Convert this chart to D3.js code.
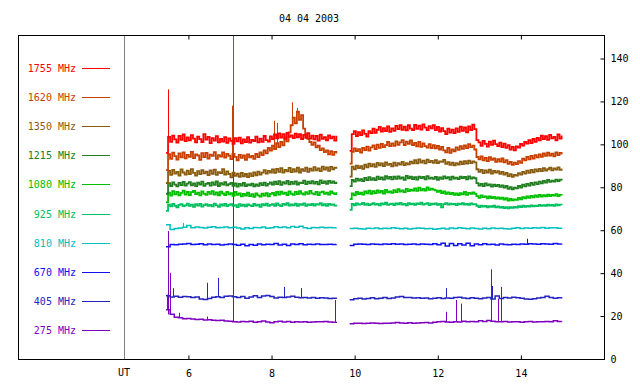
<!DOCTYPE html>
<html>
<head>
<meta charset="utf-8">
<script src="https://cdn.jsdelivr.net/npm/d3@7"></script>
<style>
  body { margin: 0; background: #fff; }
  text { font-family: "DejaVu Sans Mono", monospace; font-size: 10px; }
</style>
</head>
<body>
<div id="chart-container"></div>
<script>
const title = "04 04 2003";
const freqs = ["1755 MHz", "1620 MHz", "1350 MHz", "1215 MHz", "1080 MHz",
  "925 MHz", "810 MHz", "670 MHz", "405 MHz", "275 MHz"];
const colors = ["#ff0000", "#c84000", "#8a5c10", "#208020", "#00c000",
  "#00c060", "#00c0c0", "#1010f0", "#2424c0", "#8000c0"];
const xTicks = [6, 8, 10, 12, 14];
const yTicks = [0, 20, 40, 60, 80, 100, 120, 140];

// two observing runs; the noisy high channels are sampled every 0.05 h, the rest every 0.1 h
const runStart = [5.46, 9.88];
const sampleStep = [0.05, 0.05, 0.05, 0.05, 0.05, 0.05, 0.1, 0.1, 0.1, 0.1];

const s1755a = [96,
  103.5, 101.2, 104.1, 102.3, 100.8, 103.9, 102.1, 104.6, 101.5, 103.2,
  101.9, 104.3, 102.7, 100.9, 103.6, 102.4, 101.1, 104.8, 102.2, 103.5,
  100.6, 102.9, 101.7, 103.8, 100.9, 102.5, 101.3, 103.4, 100.7, 102.8,
  101.6, 100.2, 102.9, 101.4, 103.1, 100.5, 102.3, 101, 103.3, 100.8,
  102.1, 101.5, 103.6, 100.9, 102.7, 101.2, 103.9, 102, 101.3, 103.7,
  102.4, 104.6, 102.8, 105.1, 103.2, 104.8, 102.6, 105.3, 103.5, 104.2,
  102.9, 105, 103.3, 104.7, 102.5, 104.4, 103, 105.2, 102.7, 104.1,
  102.3, 103.9, 101.8, 104.5, 102.6, 103.4, 101.9, 104.2, 102.8, 103.6, 101.7, 104];
const s1755b = [97,
  104.8, 106.2, 103.9, 105.7, 104.3, 106.5, 104.9, 103.6, 106.1, 105.2,
  107.3, 105.4, 106.8, 108.1, 105.9, 107.6, 106.2, 108.4, 105.8, 107.4,
  106.3, 108.6, 107.1, 109, 106.8, 108.2, 106.5, 108.9, 107.3, 106.6,
  109.1, 107.2, 108.7, 106.9, 109.3, 107.8, 106.7, 108.5, 107.4, 109,
  106.6, 108.1, 105.9, 107.5, 106.2, 104.8, 107.3, 105.5, 106.9, 105.2,
  107.4, 105.8, 108.2, 106.3, 107.9, 105.6, 108.4, 106.7, 109.2, 107.1,
  102, 100.9, 99.3, 101.6, 100.2, 98.9, 101.3, 99.8, 101.7, 100.1,
  99.2, 100.8, 98.7, 100.3, 98.4, 99.6, 97.5, 98.8, 97.2, 99.1,
  98.5, 100.2, 99.4, 101.1, 100.3, 102, 100.6, 102.5, 101.2, 103,
  101.9, 104, 102.5, 103.8, 102.1, 104.4, 102.8, 103.5, 101.9, 104.6, 102.7, 104.1];

const s1620a = [88,
  95.4, 93.2, 96.1, 94.5, 92.9, 95.8, 94, 96.3, 93.5, 95.1,
  94.2, 96.5, 93.6, 95.3, 94.8, 92.8, 95.9, 94.1, 96, 93.4,
  95.2, 94.6, 96.4, 93.3, 95, 94.3, 96.2, 93.8, 95.5, 94.7,
  93.1, 95.6, 94.2, 92.6, 95.1, 93.7, 94.9, 92.8, 95.3, 93.9,
  94.6, 93.2, 95.5, 94.1, 96.3, 95, 97.2, 95.8, 98.3, 97.1,
  99.4, 97.8, 100.6, 98.7, 101.2, 99.5, 103.1, 101.4, 105.6, 108.9,
  112.5, 109.8, 115.2, 111.4, 113.6, 107.3, 104.8, 102.6, 101.1, 99.8,
  100.9, 98.6, 99.4, 97.3, 98.1, 96.4, 97.2, 95.3, 96.8, 95.1, 96.5, 95.7];
const s1620b = [91,
  96.5, 98.1, 96.9, 97.8, 96.2, 98.4, 97.3, 98.9, 97.1, 98.6,
  99.5, 97.8, 99.9, 98.4, 100.2, 98.7, 99.6, 101.1, 99.2, 100.5,
  99.3, 101.4, 99.8, 100.9, 102, 99.7, 101.3, 100.2, 101.8, 99.6,
  100.7, 99.1, 101.2, 98.8, 100.4, 99.2, 98.5, 100.1, 98.3, 99.6,
  98.1, 99.3, 97.6, 98.8, 97.2, 96.3, 98.4, 96.1, 97.7, 96.8,
  98.6, 97.4, 99.2, 97.9, 99.5, 98.2, 100.1, 98.7, 99.4, 97.6,
  94.1, 93, 94.4, 92.5, 93.7, 92.2, 94, 92.8, 93.5, 91.9,
  93.1, 92, 93.4, 91.6, 92.7, 90.9, 91.8, 90.4, 91.5, 90.8,
  92.2, 91.4, 93.3, 92.5, 94.1, 93, 94.6, 93.4, 95, 93.9,
  95.3, 94.2, 95.8, 94.6, 96.1, 94.8, 95.7, 94.4, 96.2, 95, 96, 95.3];

const s1350a = [82,
  87.6, 85.8, 88.1, 86.4, 87.2, 85.5, 88.3, 86.9, 85.9, 87.8,
  86.2, 88.4, 86.7, 85.4, 87.5, 86.1, 88, 86.5, 87.3, 85.7,
  87.9, 86.3, 88.2, 85.8, 87, 86.6, 88.5, 85.9, 87.4, 86.2,
  84.6, 86.8, 85.3, 86.4, 84.9, 86.7, 85.1, 86.2, 84.7, 86.5,
  85.2, 86.9, 85.6, 87.3, 85.9, 86.8, 88, 86.4, 87.6, 86.9,
  88.3, 86.7, 88.6, 87.2, 88.9, 86.8, 88.1, 87.4, 89, 87.1,
  88.5, 87.3, 89.2, 86.9, 88.4, 87.6, 89.1, 87.2, 88.7, 87.8,
  89.4, 87.9, 88.8, 87.5, 89.6, 88.2, 89.3, 87.7, 89.5, 88.4, 89.1, 88.6];
const s1350b = [85,
  89.6, 88.4, 90.1, 88.9, 89.8, 88.6, 90.5, 89.3, 91, 89.7,
  90.8, 89.5, 91.4, 90.2, 91.1, 89.9, 91.6, 90.4, 90.9, 89.8,
  91.5, 90.1, 91.2, 90.6, 91.8, 90.3, 91.3, 90.7, 92, 91.1,
  92.6, 91.2, 93, 91.5, 92.4, 91.1, 92.9, 91.7, 92.3, 91.4,
  92.7, 91.3, 92.1, 91.8, 92.8, 90.9, 91.7, 90.4, 91.5, 90.2,
  91.3, 90.6, 91.9, 90.8, 92.2, 91, 92.4, 91.3, 92.1, 91.6,
  88.4, 87.2, 88.1, 86.6, 87.9, 86.9, 88.2, 86.4, 87.6, 86.8,
  87.5, 86.3, 87.2, 85.9, 86.7, 85.2, 86.1, 84.9, 85.8, 85.4,
  86.6, 85.9, 87.2, 86.4, 87.8, 86.7, 88.1, 87, 88.3, 87.4,
  88.6, 87.5, 88.9, 87.8, 88.4, 89.1, 87.9, 88.8, 88.2, 89.3, 88.1, 88.7];

const s1215a = [77,
  81.9, 80.6, 82.3, 81.2, 80.4, 82.1, 81, 82.5, 80.8, 81.7,
  82.4, 80.9, 81.8, 80.5, 82.2, 81.3, 82.6, 80.7, 81.6, 82,
  80.8, 82.3, 81.1, 82.7, 80.6, 81.9, 81.2, 82.4, 80.9, 81.5,
  82.1, 80.7, 81.8, 80.3, 81.6, 80.8, 82, 80.5, 81.4, 80.9,
  81.7, 80.4, 81.3, 80.7, 81.9, 81, 82.2, 80.8, 81.6, 82.3,
  81.2, 82.6, 81.5, 82.9, 81.1, 82.4, 81.7, 83, 81.4, 82.5,
  81.6, 82.8, 81.3, 82.2, 81.9, 83.1, 81.5, 82.6, 81.8, 82.9,
  81.7, 82.5, 81.4, 83.2, 81.9, 82.7, 81.6, 83, 82.1, 82.8, 81.9, 82.6];
const s1215b = [80.5,
  83.4, 82.6, 84, 83.1, 83.8, 82.9, 84.4, 83.3, 84.7, 83.5,
  84.2, 83.4, 85, 83.8, 84.6, 83.6, 85.2, 84, 84.8, 83.7,
  84.9, 83.9, 85.1, 84.1, 84.6, 83.5, 85.3, 84.2, 84.9, 83.8,
  84.7, 83.6, 85, 84.3, 84.8, 83.7, 85.2, 84, 84.5, 83.9,
  84.8, 83.5, 84.6, 83.9, 85.1, 84.2, 84.7, 83.6, 84.9, 84.1,
  84.5, 83.8, 85, 84.3, 84.8, 83.7, 85.1, 84, 84.6, 84.2,
  81.9, 80.8, 81.6, 80.5, 81.8, 80.9, 81.4, 80.3, 81.2, 80.6,
  81.1, 80.2, 80.9, 79.8, 80.6, 79.3, 80.1, 79, 79.8, 79.5,
  80.7, 79.9, 81.2, 80.4, 81.6, 80.8, 82, 81.1, 82.3, 81.5,
  82.6, 81.8, 83, 82.2, 83.4, 82.5, 83.1, 82.7, 83.6, 82.9, 83.5, 83.2];

const s1080a = [73,
  77.5, 76.1, 78.2, 76.7, 77.9, 76.3, 77.4, 78.4, 76.6, 77.8,
  76.4, 77.7, 78.3, 76.8, 77.5, 76.2, 78.1, 77, 76.5, 77.9,
  76.9, 78.2, 76.6, 77.6, 76.3, 78, 77.1, 76.4, 77.8, 76.7,
  77.3, 76, 77.9, 76.5, 77.2, 75.8, 76.9, 76.1, 77.5, 75.9,
  76.8, 75.6, 77.1, 76.2, 75.7, 77, 76.1, 77.3, 75.8, 76.9,
  77.4, 76.3, 77.8, 76.6, 78, 76.9, 77.5, 76.4, 78.1, 77,
  76.5, 77.9, 76.8, 78.2, 77.1, 76.6, 77.7, 76.9, 78.3, 77.2,
  76.7, 77.8, 76.4, 77.6, 78, 76.9, 77.5, 76.6, 78.1, 77.3, 76.8, 77.7];
const s1080b = [74.5,
  77.1, 76.3, 77.8, 76.8, 77.5, 76.6, 78.1, 77.2, 78.4, 77,
  78.2, 77.3, 78.6, 77.5, 78.3, 77.1, 78.8, 77.6, 78.1, 77.4,
  78.7, 77.8, 79.1, 78, 78.6, 77.7, 79.3, 78.2, 78.9, 78.4,
  79.5, 78.3, 79.8, 78.6, 79.2, 78.5, 80, 78.8, 79.4, 78.9,
  78.6, 77.9, 78.4, 77.3, 78.1, 77, 77.6, 76.8, 77.4, 76.5,
  77.2, 76.4, 77.3, 76.7, 77.8, 76.5, 77.4, 76.9, 77.6, 77,
  75.9, 75.1, 76.2, 75.4, 75.8, 74.9, 75.7, 75, 75.5, 74.7,
  75.3, 74.6, 75.2, 74.3, 74.9, 73.8, 74.6, 73.9, 74.4, 74.1,
  75, 74.4, 75.4, 74.8, 75.7, 75.1, 76, 75.3, 76.2, 75.6,
  76.5, 75.7, 76.3, 75.8, 76.6, 75.9, 76.4, 76.1, 76.8, 75.9, 76.5, 76.2];

const s925a = [69,
  71.9, 71.1, 72.3, 71.4, 70.7, 71.8, 72.2, 71.2, 71.6, 72.4,
  71.3, 71.9, 70.9, 72.1, 71.5, 72.3, 71, 71.7, 72.2, 71.4,
  71.8, 71.1, 72.4, 71.6, 70.9, 72, 71.5, 72.3, 71.2, 71.8,
  72.1, 71.3, 71.7, 70.8, 72.2, 71.4, 71.9, 71.1, 72, 71.6,
  71.2, 72.3, 71.5, 71.9, 70.9, 72.1, 71.6, 72.4, 71.3, 71.8,
  72.2, 71.4, 72.5, 71.7, 71.2, 72.3, 71.8, 72.6, 71.5, 72,
  71.6, 72.4, 71.3, 72.1, 71.8, 72.5, 71.4, 72, 71.7, 72.3,
  71.5, 72.2, 71.9, 72.6, 71.6, 72.1, 71.4, 72.3, 71.8, 72, 71.5, 71.9];
const s925b = [69.5,
  72.3, 71.6, 72.5, 71.9, 72.2, 72.7, 71.8, 72.4, 71.7, 72.1,
  72.6, 71.9, 72.3, 71.6, 72.5, 72, 72.8, 71.8, 72.2, 72.4,
  71.7, 72.5, 72.1, 72.7, 71.9, 72.3, 71.6, 72.6, 72, 72.4,
  71.8, 72.5, 72.2, 72.8, 71.9, 72.3, 72.6, 71.7, 72.4, 72.1,
  72.5, 71.8, 72.3, 70.6, 72.2, 72.6, 71.9, 72.4, 72, 72.3,
  71.7, 72.4, 72.1, 72.6, 71.9, 72.3, 71.8, 72.5, 72.1, 72.2,
  71.4, 70.8, 71.5, 71, 71.3, 70.7, 71.2, 70.9, 71.4, 70.6,
  71.1, 70.5, 70.9, 70.3, 70.8, 70.2, 70.7, 70.4, 70.9, 70.5,
  71.2, 70.8, 71.4, 70.9, 71.3, 71, 71.6, 71.1, 71.5, 71.2,
  71.8, 71.3, 71.7, 71.4, 71.9, 71.5, 71.8, 71.3, 72, 71.6, 71.9, 71.7];

const s810a = [62.5, 60.3, 60.8, 61, 61.4, 62.2, 61.2, 61.5, 61.3, 61, 61.4, 61.6, 61.1, 61.3, 61.5, 61.2, 61.4, 61, 60.6, 61.2, 60.8, 61.3, 61.1, 61.5, 60.9, 61.2, 61.6, 61.3, 61.5, 61.1, 61.7, 61.4, 61.9, 61.2, 60.8, 61.3, 61.1, 61.4, 61.2, 61.3, 61.1, 61.2];
const s810b = [60.8, 60.9, 60.7, 60.6, 60.9, 60.8, 61, 60.7, 60.9, 60.8, 61.1, 60.9, 60.7, 60.9, 60.6, 60.8, 61, 60.9, 60.7, 60.8, 60.5, 60.7, 60.9, 60.6, 61, 60.8, 61.1, 60.9, 60.7, 61, 60.8, 60.6, 60.9, 60.7, 61, 60.8, 60.9, 60.7, 60.6, 60.9, 61.1, 60.8, 61, 60.9, 61.2, 61, 61.3, 60.9, 61.1, 61.2, 60.9, 61.1];

const s670a = [52.3, 53.4, 53.2, 53.5, 53.6, 53.8, 53.3, 53.5, 53.7, 53.2, 53.6, 53.4, 53.5, 53.1, 53.4, 53.6, 53.3, 53, 53.5, 52.8, 53.4, 53, 53.6, 53.2, 53.5, 53.4, 53.8, 53.1, 53.5, 52.9, 53.6, 53.4, 53.7, 53.2, 53.5, 53.4, 53.6, 53.3, 53.4, 53.5, 53.3, 53.4];
const s670b = [52.9, 53.5, 53.6, 53.5, 53.4, 53.6, 53.5, 53.4, 53.6, 53.5, 53.7, 53.5, 53.6, 53.4, 53.5, 53.6, 53.3, 53.6, 53.5, 53.4, 53.7, 53.2, 53.9, 52.6, 53.8, 52.9, 53.7, 53.1, 53.9, 52.8, 53.6, 53.2, 53.7, 53.3, 53.5, 53.1, 53.6, 53.4, 53.2, 53.5, 53.4, 53.6, 53.5, 53.7, 53.6, 53.5, 53.7, 53.6, 53.5, 53.8, 53.6, 53.7];

const s405a = [29.5, 28.9, 29.2, 28.8, 29.1, 29, 28.6, 28.9, 28, 27.7, 28.2, 28.8, 29, 28.7, 29.2, 29.4, 29, 28.6, 29.1, 28.3, 28.9, 29.5, 28.7, 29.3, 29.6, 29.1, 28.4, 28.8, 28.6, 28.9, 29.2, 28.8, 28.5, 28.7, 28.4, 28.6, 28.3, 28.5, 28.4, 28.2, 28.3, 28.1];
const s405b = [27.6, 28.1, 28.3, 28, 28.2, 28.5, 28.1, 28.3, 28.6, 28.2, 28.4, 28.9, 29.1, 28.7, 28.6, 28.4, 28.5, 28.3, 28.4, 28.1, 28.3, 28.5, 28.2, 28.4, 28.3, 28.6, 28.8, 28.4, 28.2, 28.5, 28.3, 28.1, 28.4, 28.7, 27.9, 29.4, 28.2, 28.6, 28.4, 28.8, 28.5, 28.3, 28, 27.8, 28.1, 28.4, 28.7, 29.2, 28.6, 28.3, 28.5, 28.2];

const s275a = [23, 20.8, 19.5, 19.2, 18.8, 18.9, 18.6, 18.4, 18.5, 18.2, 18.3, 18, 17.9, 18.1, 17.7, 17.6, 17.4, 17.2, 17.5, 17.3, 17.6, 17.1, 17.4, 17.7, 17.2, 16.9, 17.3, 17.6, 17.2, 17.5, 17.1, 17.4, 17.2, 17.3, 17.1, 17.2, 17.4, 17.3, 17.5, 17.2, 17.1, 17.3];
const s275b = [16.4, 16.6, 16.7, 16.5, 16.6, 16.8, 16.6, 16.5, 16.7, 16.6, 16.8, 17, 16.8, 16.7, 16.9, 16.7, 16.8, 16.9, 17, 16.8, 17.1, 17.3, 17.5, 17.2, 17.1, 17.4, 17.2, 17.6, 17.3, 17.5, 17.4, 17.8, 17.5, 17.9, 17.6, 17.4, 17.3, 17.5, 17.2, 17.4, 17.3, 17.1, 17.3, 17.5, 17.2, 17.4, 17.3, 17.5, 17.4, 17.8, 17.5, 17.6];

// short bursts: [frequency, hour, peak value]
const spikes = [
  ["1755 MHz", 5.52, 125.6],
  ["1620 MHz", 7.06, 118], ["1620 MHz", 7.08, 160],
  ["1620 MHz", 8.06, 111], ["1620 MHz", 8.12, 110],
  ["1620 MHz", 8.5, 119.6], ["1620 MHz", 8.62, 117],
  ["810 MHz", 5.87, 63.4],
  ["670 MHz", 14.14, 56],
  ["405 MHz", 5.63, 33], ["405 MHz", 6.44, 35.5], ["405 MHz", 6.7, 37.8],
  ["405 MHz", 8.3, 33.6], ["405 MHz", 8.7, 33],
  ["405 MHz", 12.21, 33], ["405 MHz", 13.31, 34],
  ["275 MHz", 5.48, 30], ["275 MHz", 5.52, 59.6], ["275 MHz", 5.55, 40],
  ["275 MHz", 5.78, 21.5], ["275 MHz", 6.45, 19.8], ["275 MHz", 7.08, 160],
  ["275 MHz", 9.52, 27.5], ["275 MHz", 12.2, 22],
  ["275 MHz", 12.43, 27.5], ["275 MHz", 12.55, 25.8],
  ["275 MHz", 13.27, 41.8], ["275 MHz", 13.45, 28], ["275 MHz", 13.52, 33.6]
];

const runs = [
  [s1755a, s1755b], [s1620a, s1620b], [s1350a, s1350b], [s1215a, s1215b],
  [s1080a, s1080b], [s925a, s925b], [s810a, s810b], [s670a, s670b],
  [s405a, s405b], [s275a, s275b]
];

const w = 640;
const h = 384;
const frame = { left: 18, top: 35, right: 604, bottom: 359 };

const svg = d3
  .select("#chart-container")
  .append("svg")
  .attr("width", w)
  .attr("height", h);

const xScale = d3.scaleLinear().domain([4.45, 16]).range([124, frame.right]);
const yScale = d3.scaleLinear().domain([0, 140]).range([frame.bottom, 58.5]);
const legendY = d3.scalePoint().domain(freqs).range([68, 330]);
const color = d3.scaleOrdinal().domain(freqs).range(colors);

svg
  .append("clipPath")
  .attr("id", "plot-clip")
  .append("rect")
  .attr("x", 124)
  .attr("y", frame.top)
  .attr("width", frame.right - 124)
  .attr("height", frame.bottom - frame.top);

svg
  .append("text")
  .attr("x", 309)
  .attr("y", 22)
  .attr("text-anchor", "middle")
  .text(title);

// legend
const legend = svg
  .selectAll(".legend")
  .data(freqs)
  .enter()
  .append("g")
  .attr("class", "legend")
  .attr("transform", (d) => "translate(0," + Math.round(legendY(d)) + ")");

legend
  .append("text")
  .attr("x", 76)
  .attr("dy", "0.35em")
  .attr("text-anchor", "end")
  .attr("fill", (d) => color(d))
  .text((d) => d);

legend
  .append("line")
  .attr("x1", 82)
  .attr("x2", 110)
  .attr("y1", 0.5)
  .attr("y2", 0.5)
  .attr("stroke", (d) => color(d))
  .attr("stroke-width", 1);

// UT divider
svg
  .append("line")
  .attr("x1", xScale(4.45) + 0.5)
  .attr("x2", xScale(4.45) + 0.5)
  .attr("y1", frame.top)
  .attr("y2", frame.bottom)
  .attr("stroke", "#808080");

const plot = svg.append("g").attr("clip-path", "url(#plot-clip)");

const line = d3
  .line()
  .x((d) => xScale(d[0]))
  .y((d) => yScale(d[1]))
  .curve(d3.curveStepAfter);

function points(i, r) {
  return runs[i][r].map((v, k) => [runStart[r] + k * sampleStep[i], v]);
}

function valueAt(f, t) {
  const i = freqs.indexOf(f);
  const r = t < 9.7 ? 0 : 1;
  const vals = runs[i][r];
  const k = Math.max(0, Math.min(vals.length - 1, Math.round((t - runStart[r]) / sampleStep[i])));
  return vals[k];
}

// low frequencies first, 1755 MHz on top
d3.range(freqs.length - 1, -1, -1).forEach((i) => {
  const f = freqs[i];
  [0, 1].forEach((r) => {
    plot
      .append("path")
      .attr("d", line(points(i, r)))
      .attr("fill", "none")
      .attr("stroke", color(f))
      .attr("stroke-width", sampleStep[i] < 0.1 ? 1.8 : 1.5);
  });
  plot
    .selectAll(null)
    .data(spikes.filter((s) => s[0] === f))
    .enter()
    .append("line")
    .attr("x1", (d) => Math.round(xScale(d[1])) + 0.5)
    .attr("x2", (d) => Math.round(xScale(d[1])) + 0.5)
    .attr("y1", (d) => yScale(valueAt(f, d[1])))
    .attr("y2", (d) => yScale(d[2]))
    .attr("stroke", color(f))
    .attr("stroke-width", 1);
});

// frame
svg
  .append("rect")
  .attr("x", frame.left + 0.5)
  .attr("y", frame.top + 0.5)
  .attr("width", frame.right - frame.left)
  .attr("height", frame.bottom - frame.top)
  .attr("fill", "none")
  .attr("stroke", "#000");

const xAxis = d3.axisBottom(xScale).tickValues(xTicks).tickSize(-4).tickPadding(10).tickFormat(d3.format("d"));
const xAxisTop = d3.axisTop(xScale).tickValues(xTicks).tickSize(-4).tickFormat("");
const yAxis = d3.axisRight(yScale).tickValues(yTicks).tickSizeInner(-4).tickSizeOuter(0).tickPadding(6);

svg
  .append("g")
  .attr("id", "x-axis")
  .attr("transform", "translate(0," + (frame.bottom + 0.5) + ")")
  .call(xAxis);

svg
  .append("g")
  .attr("transform", "translate(0," + (frame.top + 0.5) + ")")
  .call(xAxisTop);

svg
  .append("g")
  .attr("id", "y-axis")
  .attr("transform", "translate(" + (frame.right + 0.5) + ",0)")
  .call(yAxis);

svg.selectAll(".domain").remove();
svg.selectAll(".tick text").attr("font-family", null).attr("font-size", null);

svg
  .append("text")
  .attr("x", 124)
  .attr("y", 376)
  .attr("text-anchor", "middle")
  .text("UT");
</script>
</body>
</html>
